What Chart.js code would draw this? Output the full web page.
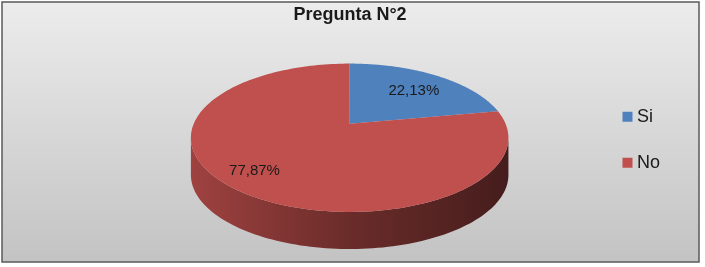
<!DOCTYPE html>
<html>
<head>
<meta charset="utf-8">
<style>
  html, body { margin: 0; padding: 0; background: #ffffff; }
  #chart { display: block; }
</style>
<script src="https://cdn.jsdelivr.net/npm/chart.js@4"></script>
</head>
<body>
<canvas id="chart" width="700" height="267"></canvas>
<script>
const chartTitle = 'Pregunta N°2';
const categories = ['Si', 'No'];
const shares = [22.13, 77.87];
const sliceColors = ['#4f81bd', '#c0504d'];

// Perspective of the tilted disc, relative to the radius the layout gives the pie.
const tilt = { k: 0.189, wide: 1.441, tall: 0.661, lift: 0.1485, depth: 0.343, shift: 0.325 };
const labelReach = [0.68, 0.8];
const labelTurn = [0.03, 0.05];

// Projects a polar position on the disc to the canvas.
function project(el, angle, reach) {
  const R = el.outerRadius;
  const u = Math.cos(angle) * reach;
  const v = -Math.sin(angle) * reach;
  const w = 1 + tilt.k * v;
  return {
    x: el.x + tilt.shift * R + tilt.wide * R * u / w,
    y: el.y - tilt.lift * R - tilt.tall * R * v / w
  };
}

function shade(hex, f) {
  const n = parseInt(hex.slice(1), 16);
  const c = [n >> 16, (n >> 8) & 255, n & 255].map(p => Math.round(p * f));
  return `rgb(${c[0]},${c[1]},${c[2]})`;
}

class TiltedArc extends Chart.ArcElement {
  draw(ctx) {
    const { startAngle, endAngle, outerRadius } = this;
    const color = this.options.backgroundColor;
    const steps = 180;
    const pts = [];
    for (let i = 0; i <= steps; i++) {
      const a = startAngle + (endAngle - startAngle) * i / steps;
      pts.push({ a, p: project(this, a, 1) });
    }

    // Rim: only the part of the edge facing the viewer.
    const front = pts.filter(o => -Math.sin(o.a) <= -tilt.k).map(o => o.p);
    if (front.length > 1) {
      const depth = tilt.depth * outerRadius;
      const cx = project(this, 0, 0).x;
      const halfWidth = tilt.wide * outerRadius * 1.02;
      const g = ctx.createLinearGradient(cx - halfWidth, 0, cx + halfWidth, 0);
      g.addColorStop(0, shade(color, 0.83));
      g.addColorStop(0.5, shade(color, 0.55));
      g.addColorStop(1, shade(color, 0.36));
      ctx.beginPath();
      front.forEach((p, i) => i ? ctx.lineTo(p.x, p.y) : ctx.moveTo(p.x, p.y));
      for (let i = front.length - 1; i >= 0; i--) ctx.lineTo(front[i].x, front[i].y + depth);
      ctx.closePath();
      ctx.fillStyle = g;
      ctx.fill();
    }

    // Top face of the slice.
    const apex = project(this, 0, 0);
    ctx.beginPath();
    ctx.moveTo(apex.x, apex.y);
    pts.forEach(o => ctx.lineTo(o.p.x, o.p.y));
    ctx.closePath();
    ctx.fillStyle = color;
    ctx.fill();
  }
}
TiltedArc.id = 'tiltedArc';

class TiltedPie extends Chart.PieController {}
TiltedPie.id = 'tiltedPie';
TiltedPie.defaults = { dataElementType: 'tiltedArc' };
TiltedPie.overrides = Chart.PieController.overrides;
Chart.register(TiltedArc, TiltedPie);

// Framed panel with a soft vertical grey wash.
const panel = {
  id: 'panel',
  beforeDraw(chart) {
    const { ctx } = chart;
    const g = ctx.createLinearGradient(0, 2, 0, 262);
    g.addColorStop(0, '#ececec');
    g.addColorStop(1, '#c3c3c3');
    ctx.save();
    ctx.fillStyle = g;
    ctx.fillRect(2, 2, 697, 260);
    ctx.strokeStyle = '#5a5a5a';
    ctx.lineWidth = 1.5;
    ctx.strokeRect(2, 2, 697, 260);
    ctx.restore();
  }
};

// Percentage text on each slice, with a decimal comma.
const sliceLabels = {
  id: 'sliceLabels',
  afterDatasetsDraw(chart) {
    const { ctx } = chart;
    const arcs = chart.getDatasetMeta(0).data;
    ctx.save();
    ctx.font = '15px "Liberation Sans", Arial, sans-serif';
    ctx.fillStyle = '#1a1a1a';
    ctx.textAlign = 'center';
    ctx.textBaseline = 'middle';
    arcs.forEach((arc, i) => {
      const mid = (arc.startAngle + arc.endAngle) / 2 + labelTurn[i];
      const p = project(arc, mid, labelReach[i]);
      ctx.fillText(shares[i].toFixed(2).replace('.', ',') + '%', p.x, p.y);
    });
    ctx.restore();
  }
};

new Chart(document.getElementById('chart'), {
  type: 'tiltedPie',
  data: {
    labels: categories,
    datasets: [{ data: shares, backgroundColor: sliceColors, borderWidth: 0 }]
  },
  options: {
    responsive: false,
    animation: false,
    layout: { padding: { left: 30, right: 30, top: 0, bottom: 19 } },
    plugins: {
      title: {
        display: true,
        text: chartTitle,
        color: '#1a1a1a',
        font: { family: '"Liberation Sans", Arial, sans-serif', size: 18, weight: 'bold' },
        padding: { top: 4, bottom: 6 }
      },
      legend: {
        position: 'right',
        fullSize: false,
        labels: {
          usePointStyle: true,
          pointStyle: 'rect',
          boxWidth: 1,
          boxHeight: 10,
          padding: 28,
          color: '#1a1a1a',
          font: { family: '"Liberation Sans", Arial, sans-serif', size: 18 }
        }
      },
      tooltip: { enabled: false }
    }
  },
  plugins: [panel, sliceLabels]
});
</script>
</body>
</html>
